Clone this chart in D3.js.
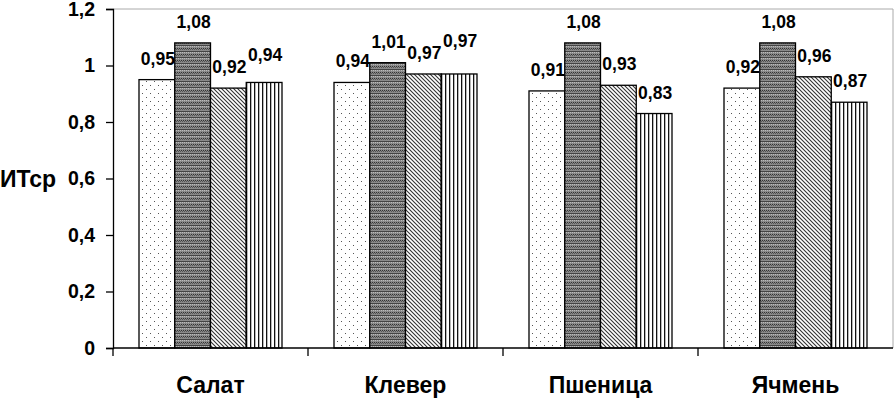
<!DOCTYPE html>
<html>
<head>
<meta charset="utf-8">
<script src="https://cdn.jsdelivr.net/npm/d3@7"></script>
<style>
  body { margin: 0; background: #fff; }
  svg { display: block; font-family: "Liberation Sans", Arial, sans-serif; font-weight: bold; }
</style>
</head>
<body>
<svg id="chart" width="895" height="398"></svg>
<script>
// Data
const categories = ['Салат', 'Клевер', 'Пшеница', 'Ячмень'];
const seriesNames = ['s1', 's2', 's3', 's4'];
const values = [
  [0.95, 1.08, 0.92, 0.94],
  [0.94, 1.01, 0.97, 0.97],
  [0.91, 1.08, 0.93, 0.83],
  [0.92, 1.08, 0.96, 0.87]
];
const yTicks = [0, 0.2, 0.4, 0.6, 0.8, 1, 1.2];

const margin = { top: 9, right: 2, bottom: 50, left: 113 };
const W = 895, H = 398;

const svg = d3.select('#chart');
const defs = svg.append('defs');

// Fill patterns, one per series
const p1 = defs.append('pattern').attr('id', 'pat0').attr('patternUnits', 'userSpaceOnUse')
  .attr('width', 8).attr('height', 8);
p1.append('rect').attr('width', 8).attr('height', 8).attr('fill', '#fff');
p1.append('rect').attr('x', 1).attr('y', 1).attr('width', 1).attr('height', 1).attr('fill', '#555');
p1.append('rect').attr('x', 5).attr('y', 5).attr('width', 1).attr('height', 1).attr('fill', '#555');

const p2 = defs.append('pattern').attr('id', 'pat1').attr('patternUnits', 'userSpaceOnUse')
  .attr('width', 4).attr('height', 6);
p2.append('rect').attr('width', 4).attr('height', 6).attr('fill', '#8a8a8a');
p2.append('rect').attr('x', 0).attr('y', 0).attr('width', 1).attr('height', 1).attr('fill', '#333');
p2.append('rect').attr('x', 2).attr('y', 0).attr('width', 1).attr('height', 1).attr('fill', '#333');
p2.append('rect').attr('x', 1).attr('y', 1).attr('width', 1).attr('height', 1).attr('fill', '#555');
p2.append('rect').attr('x', 3).attr('y', 1).attr('width', 1).attr('height', 1).attr('fill', '#555');
p2.append('rect').attr('x', 0).attr('y', 3).attr('width', 4).attr('height', 1).attr('fill', '#444');
p2.append('rect').attr('x', 1).attr('y', 4).attr('width', 1).attr('height', 1).attr('fill', '#bbb');
p2.append('rect').attr('x', 3).attr('y', 4).attr('width', 1).attr('height', 1).attr('fill', '#bbb');

const p3 = defs.append('pattern').attr('id', 'pat2').attr('patternUnits', 'userSpaceOnUse')
  .attr('width', 4).attr('height', 4);
p3.append('rect').attr('width', 4).attr('height', 4).attr('fill', '#fff');
p3.append('path').attr('d', 'M-1,-1 L5,5 M-1,3 L1,5 M3,-1 L5,1')
  .attr('stroke', '#333').attr('stroke-width', 1.1);

const p4 = defs.append('pattern').attr('id', 'pat3').attr('patternUnits', 'userSpaceOnUse')
  .attr('width', 4).attr('height', 4);
p4.append('rect').attr('width', 4).attr('height', 4).attr('fill', '#fff');
p4.append('rect').attr('x', 1).attr('y', 0).attr('width', 1.3).attr('height', 4).attr('fill', '#111');

// Scales
const x0 = d3.scaleBand().domain(categories).range([margin.left, W - margin.right]);
const x1 = d3.scaleBand().domain(seriesNames).range([26, x0.bandwidth() - 26]);
const y = d3.scaleLinear().domain([0, 1.2]).range([H - margin.bottom, margin.top]);

// Plot area border (top and right)
svg.append('path')
  .attr('d', `M${margin.left},${y(1.2)} H${W - margin.right} V${y(0)}`)
  .attr('fill', 'none').attr('stroke', '#aaa').attr('stroke-width', 1);

// Bars
const groups = svg.selectAll('g.group').data(categories).join('g')
  .attr('class', 'group')
  .attr('transform', d => `translate(${x0(d)},0)`);

groups.each(function(cat, ci) {
  const g = d3.select(this);
  let prevLabelY = -100;
  values[ci].forEach((v, si) => {
    g.append('rect')
      .attr('x', x1(seriesNames[si]))
      .attr('y', y(v))
      .attr('width', x1.bandwidth())
      .attr('height', y(0) - y(v))
      .attr('fill', `url(#pat${si})`)
      .attr('stroke', '#000').attr('stroke-width', 1.3);
    // stagger a label upward when it would collide with its left neighbour
    let ly = y(v) - 15;
    if (Math.abs(ly - prevLabelY) < 10) ly = prevLabelY - 12;
    prevLabelY = ly;
    g.append('text')
      .attr('x', x1(seriesNames[si]) + x1.bandwidth() / 2 + 1)
      .attr('y', ly)
      .attr('text-anchor', 'middle')
      .attr('font-size', 17.5)
      .attr('fill', '#000')
      .text(d3.format('.2f')(v).replace('.', ','));
  });
});

// Y axis
const yAxis = d3.axisLeft(y).tickValues(yTicks).tickSize(7).tickPadding(11)
  .tickFormat(d => String(d).replace('.', ','));
svg.append('g')
  .attr('transform', `translate(${margin.left},0)`)
  .call(yAxis)
  .call(g => g.selectAll('.domain').attr('stroke', '#000').attr('stroke-width', 1.3))
  .call(g => g.selectAll('line').attr('stroke', '#000').attr('stroke-width', 1.3))
  .call(g => g.selectAll('text').attr('font-size', 19.5).attr('font-weight', 'bold')
    .attr('font-family', '"Liberation Sans", Arial, sans-serif').attr('fill', '#000'));

// X axis with ticks at category boundaries
const xAxisG = svg.append('g').attr('transform', `translate(0,${y(0)})`);
xAxisG.append('line')
  .attr('x1', margin.left).attr('x2', W - margin.right)
  .attr('stroke', '#000').attr('stroke-width', 1.3);
const bounds = categories.map(c => x0(c));
xAxisG.selectAll('line.tick').data(bounds).join('line')
  .attr('class', 'tick')
  .attr('x1', d => d).attr('x2', d => d)
  .attr('y1', 0).attr('y2', 8)
  .attr('stroke', '#000').attr('stroke-width', 1.3);
xAxisG.selectAll('text.cat').data(categories).join('text')
  .attr('class', 'cat')
  .attr('x', d => x0(d) + x0.bandwidth() / 2)
  .attr('y', 45)
  .attr('text-anchor', 'middle')
  .attr('font-size', 23)
  .text(d => d);

// Y axis title
svg.append('text')
  .attr('x', 0).attr('y', 187)
  .attr('font-size', 23)
  .text('ИТср');
</script>
</body>
</html>
